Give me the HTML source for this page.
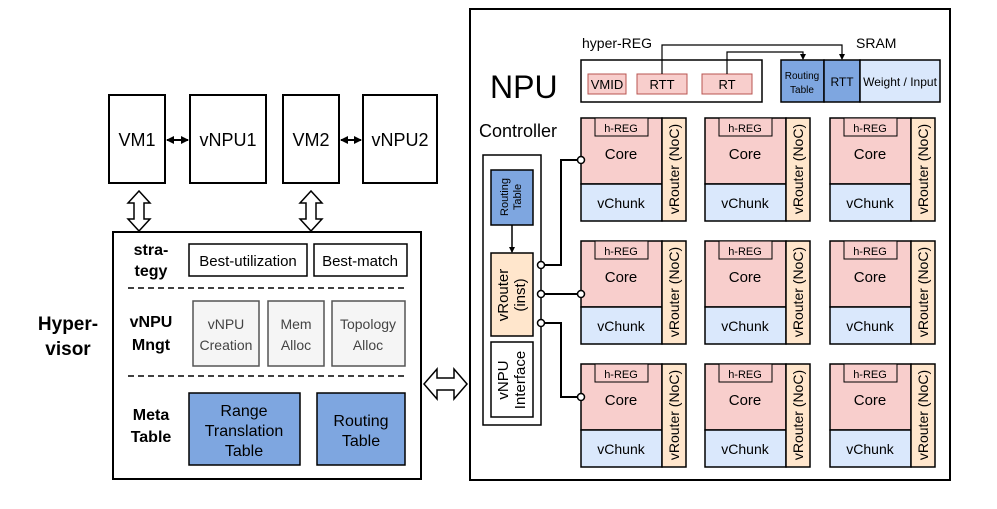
<!DOCTYPE html>
<html><head><meta charset="utf-8"><style>
html,body{margin:0;padding:0;background:#fff}
svg{display:block;font-family:"Liberation Sans",Arial,sans-serif}
</style></head><body>
<svg width="997" height="509" viewBox="0 0 997 509" xmlns="http://www.w3.org/2000/svg">
<defs>
<marker id="ah" markerWidth="8" markerHeight="8" refX="7" refY="4" orient="auto-start-reverse" markerUnits="userSpaceOnUse"><path d="M0,0 L8,4 L0,8 z" fill="#000"/></marker>
<marker id="ahs" markerWidth="6" markerHeight="6" refX="5" refY="3" orient="auto" markerUnits="userSpaceOnUse"><path d="M0,0 L6,3 L0,6 z" fill="#000"/></marker>
</defs>
<g fill="none" stroke="#000" stroke-width="2">
<rect x="109" y="95" width="56" height="88" fill="#fff"/>
<rect x="190" y="95" width="76" height="88" fill="#fff"/>
<rect x="283" y="95" width="56" height="88" fill="#fff"/>
<rect x="363" y="95" width="74" height="88" fill="#fff"/>
</g>
<g stroke="#000" stroke-width="2" marker-start="url(#ah)" marker-end="url(#ah)">
<line x1="167" y1="140" x2="188" y2="140"/>
<line x1="341" y1="140" x2="361" y2="140"/>
</g>
<g font-size="18" text-anchor="middle" fill="#000">
<text x="137" y="146">VM1</text><text x="228" y="146">vNPU1</text>
<text x="311" y="146">VM2</text><text x="400" y="146">vNPU2</text>
</g>
<g fill="#fff" stroke="#000" stroke-width="1.5">
<path d="M139,191 L128,203 L134,203 L134,219 L128,219 L139,231 L150,219 L144,219 L144,203 L150,203 Z"/>
<path d="M311,191 L300,203 L306,203 L306,219 L300,219 L311,231 L322,219 L316,219 L316,203 L322,203 Z"/>
<path d="M424,384 L437,369 L437,378 L454,378 L454,369 L467,384 L454,399 L454,390 L437,390 L437,399 Z"/>
</g>
<rect x="113" y="232" width="308" height="247" fill="#fff" stroke="#000" stroke-width="2"/>
<text x="68" y="330" font-size="19" font-weight="bold" text-anchor="middle">Hyper-</text>
<text x="68" y="355" font-size="19" font-weight="bold" text-anchor="middle">visor</text>
<g font-size="16" font-weight="bold" text-anchor="middle">
<text x="151" y="255">stra-</text><text x="151" y="276">tegy</text>
<text x="151" y="327">vNPU</text><text x="151" y="350">Mngt</text>
<text x="151" y="420">Meta</text><text x="151" y="442">Table</text>
</g>
<g fill="#fff" stroke="#000" stroke-width="1.5">
<rect x="189" y="244" width="118" height="32"/>
<rect x="314" y="244" width="93" height="32"/>
</g>
<g font-size="15" text-anchor="middle">
<text x="248" y="266">Best-utilization</text><text x="360" y="266">Best-match</text>
</g>
<g stroke="#000" stroke-width="1.5" stroke-dasharray="6,4">
<line x1="128" y1="288" x2="408" y2="288"/><line x1="128" y1="376" x2="408" y2="376"/>
</g>
<g fill="#f5f5f5" stroke="#555" stroke-width="1.5">
<rect x="193" y="301" width="66" height="65"/>
<rect x="268" y="301" width="56" height="65"/>
<rect x="332" y="301" width="73" height="65"/>
</g>
<g font-size="14" text-anchor="middle" fill="#444">
<text x="226" y="329">vNPU</text><text x="226" y="350">Creation</text>
<text x="296" y="329">Mem</text><text x="296" y="350">Alloc</text>
<text x="368" y="329">Topology</text><text x="368" y="350">Alloc</text>
</g>
<g fill="#7ea6e0" stroke="#000" stroke-width="1.5">
<rect x="189" y="393" width="111" height="72"/>
<rect x="317" y="393" width="88" height="72"/>
</g>
<g font-size="16" text-anchor="middle">
<text x="244" y="416">Range</text><text x="244" y="436">Translation</text><text x="244" y="456">Table</text>
<text x="361" y="426">Routing</text><text x="361" y="446">Table</text>
</g>
<rect x="470" y="9" width="480" height="471" fill="#fff" stroke="#000" stroke-width="2"/>
<text x="490" y="98" font-size="32">NPU</text>
<text x="479" y="137" font-size="18">Controller</text>
<text x="582" y="48" font-size="14">hyper-REG</text>
<text x="856" y="48" font-size="14">SRAM</text>
<rect x="581" y="60" width="181" height="42" fill="#fff" stroke="#000" stroke-width="1.5"/>
<g fill="#f8cecc" stroke="#b85450" stroke-width="1">
<rect x="588" y="74" width="38" height="20"/><rect x="637" y="74" width="50" height="20"/><rect x="702" y="74" width="50" height="20"/>
</g>
<g font-size="13" text-anchor="middle">
<text x="607" y="89">VMID</text><text x="662" y="89">RTT</text><text x="727" y="89">RT</text>
</g>
<g stroke="#000" stroke-width="1.5">
<rect x="781" y="60" width="43" height="42" fill="#7ea6e0"/>
<rect x="824" y="60" width="36" height="42" fill="#7ea6e0"/>
<rect x="860" y="60" width="80" height="42" fill="#dae8fc"/>
</g>
<text x="802" y="79" font-size="10" text-anchor="middle">Routing</text>
<text x="802" y="93" font-size="10" text-anchor="middle">Table</text>
<text x="842" y="86" font-size="12" text-anchor="middle">RTT</text>
<text x="900" y="86" font-size="12" text-anchor="middle">Weight / Input</text>
<g fill="none" stroke="#000" stroke-width="1.2">
<path d="M662,74 L662,45 L842,45 L842,59" marker-end="url(#ahs)"/>
<path d="M727,74 L727,52 L803,52 L803,59" marker-end="url(#ahs)"/>
</g>
<rect x="483" y="155" width="58" height="270" fill="#fff" stroke="#000" stroke-width="1.5"/>
<rect x="491" y="170" width="42" height="55" fill="#7ea6e0" stroke="#000" stroke-width="1.5"/>
<text transform="translate(508,197) rotate(-90)" font-size="11" text-anchor="middle">Routing</text>
<text transform="translate(521,197) rotate(-90)" font-size="11" text-anchor="middle">Table</text>
<line x1="512" y1="225" x2="512" y2="252" stroke="#000" stroke-width="1.5" marker-end="url(#ahs)"/>
<rect x="491" y="253" width="42" height="83" fill="#ffe6cc" stroke="#000" stroke-width="1.5"/>
<text transform="translate(508,295) rotate(-90)" font-size="15" text-anchor="middle">vRouter</text>
<text transform="translate(525,295) rotate(-90)" font-size="15" text-anchor="middle">(inst)</text>
<rect x="491" y="342" width="42" height="75" fill="#fff" stroke="#000" stroke-width="1.5"/>
<text transform="translate(508,380) rotate(-90)" font-size="15" text-anchor="middle">vNPU</text>
<text transform="translate(525,380) rotate(-90)" font-size="15" text-anchor="middle">Interface</text>
<g fill="none" stroke="#000" stroke-width="2">
<path d="M541,265 L561,265 L561,160 L581,160"/>
<path d="M541,294 L581,294"/>
<path d="M541,323 L561,323 L561,397 L581,397"/>
</g>
<g fill="#fff" stroke="#000" stroke-width="1.5">
<circle cx="541" cy="265" r="3.5"/><circle cx="541" cy="294" r="3.5"/><circle cx="541" cy="323" r="3.5"/>
</g>
<g id="cores">
<g transform="translate(581,118)"><rect x="0" y="0" width="81" height="66" fill="#f8cecc" stroke="#000" stroke-width="1.5"/><rect x="0" y="66" width="81" height="37" fill="#dae8fc" stroke="#000" stroke-width="1.5"/><rect x="81" y="0" width="24" height="103" fill="#ffe6cc" stroke="#000" stroke-width="1.5"/><rect x="14" y="0" width="53" height="18" fill="#f8cecc" stroke="#000" stroke-width="1"/><text x="40" y="14" font-size="11" text-anchor="middle">h-REG</text><text x="40" y="41" font-size="15" text-anchor="middle">Core</text><text x="40" y="90" font-size="14" text-anchor="middle">vChunk</text><text transform="translate(98,51) rotate(-90)" font-size="14" text-anchor="middle">vRouter (NoC)</text></g>
</g>
<use href="#cores" transform="translate(124,0)"/>
<use href="#cores" transform="translate(249,0)"/>
<use href="#cores" transform="translate(0,123)"/>
<use href="#cores" transform="translate(124,123)"/>
<use href="#cores" transform="translate(249,123)"/>
<use href="#cores" transform="translate(0,246)"/>
<use href="#cores" transform="translate(124,246)"/>
<use href="#cores" transform="translate(249,246)"/>
<g fill="#fff" stroke="#000" stroke-width="1.5">
<circle cx="581" cy="160" r="3.5"/><circle cx="581" cy="294" r="3.5"/><circle cx="581" cy="397" r="3.5"/>
</g>
</svg>
</body></html>
